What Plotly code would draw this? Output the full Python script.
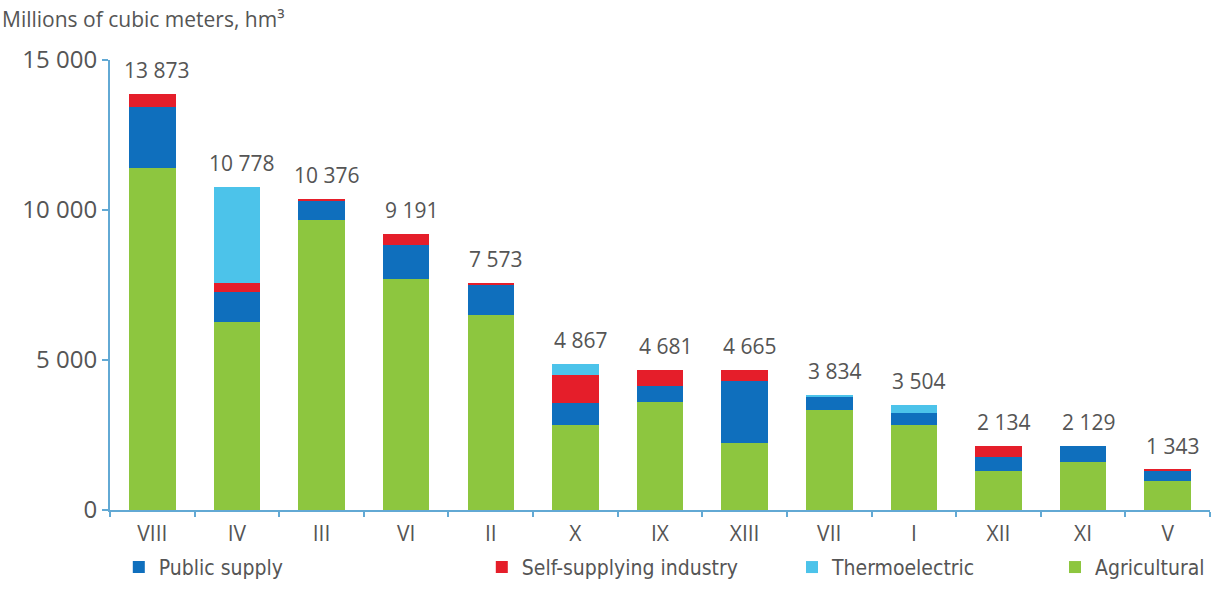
import plotly.graph_objects as go

# Regions ordered by total withdrawal
regions = ["VIII", "IV", "III", "VI", "II", "X", "IX", "XIII", "VII", "I", "XII", "XI", "V"]

# Withdrawal by use, millions of cubic meters (hm³)
agricultural = [11400, 6270, 9660, 7700, 6500, 2820, 3590, 2250, 3320, 2850, 1300, 1600, 970]
public_supply = [2020, 1010, 650, 1130, 1010, 740, 540, 2050, 454, 400, 480, 529, 330]
self_industry = [453, 300, 66, 361, 63, 940, 551, 365, 0, 0, 354, 0, 43]
thermoelectric = [0, 3198, 0, 0, 0, 367, 0, 0, 60, 254, 0, 0, 0]

y_tick_values = [0, 5000, 10000, 15000]
y_tick_labels = ["0", "5 000", "10 000", "15 000"]

totals = [a + b + c + d for a, b, c, d in zip(agricultural, public_supply, self_industry, thermoelectric)]

AXIS_BLUE = "#62a9d4"
TEXT_GREY = "#555555"
NUM_FONT = "Open Sans, Noto Sans, sans-serif"
LEGEND_FONT = "Liberation Sans Narrow, DejaVu Sans Condensed, Roboto Condensed, sans-serif"

series = [
    ("Agricultural", agricultural, "#8dc63f", "legend4"),
    ("Public supply", public_supply, "#0f6fbd", "legend"),
    ("Self-supplying industry", self_industry, "#e51e2a", "legend2"),
    ("Thermoelectric", thermoelectric, "#4cc3ea", "legend3"),
]

fig = go.Figure()
for name, values, color, legend_id in series:
    fig.add_trace(go.Bar(
        x=regions, y=values, name=name, showlegend=True,
        marker=dict(color=color, line=dict(width=0)),
        width=0.55, legend=legend_id,
    ))

for region, total in zip(regions, totals):
    fig.add_annotation(
        x=region, y=total, text=f"{total:,}".replace(",", " "),
        showarrow=False, yanchor="bottom", yshift=8, xshift=5,
        font=dict(family=NUM_FONT, size=21, color=TEXT_GREY),
    )

fig.add_annotation(
    xref="paper", yref="paper", x=-0.1, y=1.0, xanchor="left", yanchor="bottom", yshift=25,
    text="Millions of cubic meters, hm³", showarrow=False,
    font=dict(family=NUM_FONT, size=21, color=TEXT_GREY),
)

legend_common = dict(
    orientation="h", yanchor="top", y=-0.082,
    bgcolor="rgba(0,0,0,0)", itemwidth=30,
    font=dict(family=LEGEND_FONT, size=21, color=TEXT_GREY),
)

fig.update_layout(
    width=1220, height=598,
    margin=dict(l=110, r=10, t=60, b=88),
    paper_bgcolor="white", plot_bgcolor="white",
    barmode="stack",
    showlegend=True,
    legend=dict(x=0.008, xanchor="left", **legend_common),
    legend2=dict(x=0.338, xanchor="left", **legend_common),
    legend3=dict(x=0.62, xanchor="left", **legend_common),
    legend4=dict(x=1.0, xanchor="right", **legend_common),
    xaxis=dict(
        type="category", range=[-0.5, 12.5], automargin=False,
        showline=True, linecolor=AXIS_BLUE, linewidth=2,
        ticks="outside", tickson="boundaries", ticklen=5, tickcolor=AXIS_BLUE, tickwidth=1.5,
        ticklabelstandoff=4,
        showgrid=False, zeroline=False,
        tickfont=dict(family=NUM_FONT, size=21, color=TEXT_GREY),
    ),
    yaxis=dict(
        range=[0, 15000], automargin=False,
        tickvals=y_tick_values, ticktext=y_tick_labels,
        showline=True, linecolor=AXIS_BLUE, linewidth=2,
        ticks="outside", ticklen=6, tickcolor=AXIS_BLUE, tickwidth=1.5,
        showgrid=False, zeroline=False,
        tickfont=dict(family=NUM_FONT, size=24, color=TEXT_GREY),
    ),
)

fig.write_html("out.html")
